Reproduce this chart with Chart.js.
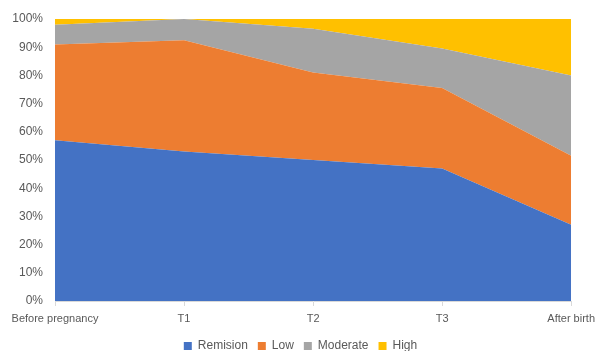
<!DOCTYPE html>
<html lang="en">
<head>
  <meta charset="utf-8">
  <title>Severity over pregnancy</title>
  <script src="https://cdn.jsdelivr.net/npm/chart.js"></script>
  <style>
    * { box-sizing:border-box; margin:0; padding:0 }
    body { background:#fff; width:601px; height:351px; overflow:hidden }
    #wrap { width:601px; height:351px }
  </style>
</head>
<body>
  <div id="wrap"><canvas id="c"></canvas></div>
  <script>
  // ===== DATA (percent of women) =====
  const labels    = ['Before pregnancy', 'T1', 'T2', 'T3', 'After birth'];
  const remission = [57, 53, 50, 47, 27];
  const low       = [34, 39.5, 31, 28.5, 24.5];
  const moderate  = [7, 7.5, 15.5, 14, 28.5];
  const high      = [2, 0, 3.5, 10.5, 20];
  const yTicks    = [0, 10, 20, 30, 40, 50, 60, 70, 80, 90, 100];

  const grey = '#595959';
  const font = { family:'Liberation Sans, Arial, sans-serif', size:11 };

  function area(label, data, color, fill) {
    return { label, data, backgroundColor:color, borderColor:color, borderWidth:0,
             pointRadius:0, fill, tension:0 };
  }

  new Chart(document.getElementById('c'), {
    type:'line',
    data:{
      labels,
      datasets:[
        area('Remision', remission, '#4472c4', 'origin'),
        area('Low', low, '#ed7d31', '-1'),
        area('Moderate', moderate, '#a5a5a5', '-1'),
        area('High', high, '#ffc000', '-1')
      ]
    },
    options:{
      responsive:true, maintainAspectRatio:false, animation:false,
      layout:{ padding:{ top:19, right:0, bottom:-11, left:0 } },
      plugins:{
        tooltip:{ enabled:false },
        legend:{
          position:'bottom',
          labels:{ boxWidth:8, boxHeight:8, color:grey, font:{ ...font, size:12 }, padding:10 }
        }
      },
      scales:{
        x:{
          offset:false,
          afterFit:s => { s.height = 29; },
          grid:{ display:true, drawOnChartArea:false, color:'#d9d9d9', tickLength:5 },
          border:{ display:true, color:'#d9d9d9' },
          ticks:{ color:grey, font, autoSkip:false, maxRotation:0, padding:6 }
        },
        y:{
          stacked:true, min:0, max:100,
          afterFit:s => { s.width = 55; },
          afterBuildTicks:s => { s.ticks = yTicks.map(v => ({ value:v })); },
          grid:{ display:false },
          border:{ display:false },
          ticks:{ color:grey, font:{ ...font, size:12 }, padding:4, callback:v => v + '%' }
        }
      }
    }
  });
  </script>
</body>
</html>
